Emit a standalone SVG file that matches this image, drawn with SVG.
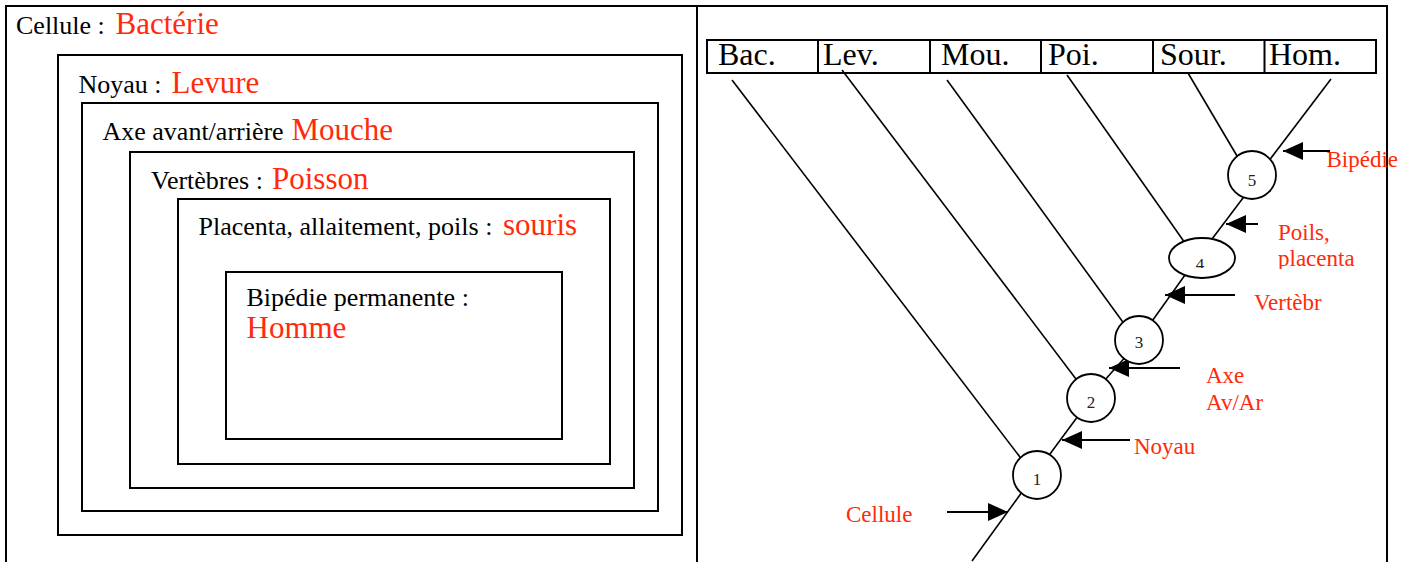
<svg xmlns="http://www.w3.org/2000/svg" width="1409" height="562" viewBox="0 0 1409 562">
<style>
text{font-family:"Liberation Serif","Times New Roman",serif}
.blk{fill:#000;font-size:26px}
.red{fill:#ff2a0a;font-size:31px}
.lab{fill:#ff2a0a;font-size:23px}
.tab{fill:#000;font-size:32px}
.num{fill:#222;font-size:17px;text-anchor:middle}
.box{fill:none;stroke:#000;stroke-width:2}
.ln{fill:none;stroke:#000;stroke-width:1.6}
.nd{fill:#fff;stroke:#000;stroke-width:1.8}
.ar{fill:none;stroke:#000;stroke-width:2}
</style>
<defs>
<marker id="ah" viewBox="0 0 20 18" refX="20" refY="9" markerWidth="20" markerHeight="18" markerUnits="userSpaceOnUse" orient="auto">
<path d="M0,0 L20,9 L0,18 z" fill="#000"/>
</marker>
<clipPath id="c4"><rect x="1180" y="240" width="45" height="28"/></clipPath>
<clipPath id="cpl"><rect x="1270" y="200" width="110" height="69"/></clipPath>
</defs>
<rect width="1409" height="562" fill="#fff"/>
<g id="frame">
<line x1="5" y1="6" x2="1388" y2="6" class="box"/>
<line x1="6" y1="6" x2="6" y2="562" class="box"/>
<line x1="697" y1="6" x2="697" y2="562" class="box"/>
<line x1="1387" y1="6" x2="1387" y2="562" class="box"/>
</g>
<g id="boxes">
<g id="box-cellule"><text x="16" y="34" class="blk">Cellule : <tspan x="115.5" class="red">Bactérie</tspan></text></g>
<g id="box-noyau"><rect x="58" y="55" width="624" height="480" class="box"/><text x="78.5" y="93" class="blk">Noyau : <tspan x="171.5" class="red">Levure</tspan></text></g>
<g id="box-axe"><rect x="82" y="103" width="576" height="408" class="box"/><text x="102.5" y="140" class="blk">Axe avant/arrière <tspan x="291.5" class="red">Mouche</tspan></text></g>
<g id="box-vertebres"><rect x="130" y="152" width="504" height="336" class="box"/><text x="151" y="188.5" class="blk">Vertèbres : <tspan x="272" class="red">Poisson</tspan></text></g>
<g id="box-placenta"><rect x="178" y="199" width="432" height="265" class="box"/><text x="198.5" y="235" class="blk">Placenta, allaitement, poils : <tspan x="503" class="red">souris</tspan></text></g>
<g id="box-bipedie"><rect x="226" y="272" width="336" height="167" class="box"/><text x="246.5" y="305.5" class="blk">Bipédie permanente :</text><text x="246.5" y="338" class="red">Homme</text></g>
</g>
<g id="table">
<rect x="707" y="40" width="669" height="33" class="box"/>
<line x1="818" y1="40" x2="818" y2="73" class="box"/>
<line x1="930" y1="40" x2="930" y2="73" class="box"/>
<line x1="1041" y1="40" x2="1041" y2="73" class="box"/>
<line x1="1153" y1="40" x2="1153" y2="73" class="box"/>
<line x1="1264.5" y1="40" x2="1264.5" y2="73" class="box"/>
<text x="718" y="65" class="tab">Bac.</text>
<text x="823" y="65" class="tab">Lev.</text>
<text x="941" y="65" class="tab">Mou.</text>
<text x="1048" y="65" class="tab">Poi.</text>
<text x="1160" y="65" class="tab">Sour.</text>
<text x="1269" y="65" class="tab">Hom.</text>
</g>
<g id="connectors">
<line x1="732" y1="80" x2="1023" y2="461" class="ln"/>
<line x1="842" y1="70" x2="1079" y2="383" class="ln"/>
<line x1="947" y1="80" x2="1125" y2="325" class="ln"/>
<line x1="1067" y1="75" x2="1185" y2="243" class="ln"/>
<line x1="1188" y1="73" x2="1240" y2="161" class="ln"/>
<line x1="1331" y1="79" x2="1268" y2="162" class="ln"/>
<line x1="972" y1="561" x2="1022" y2="492" class="ln"/>
<line x1="1047" y1="458" x2="1081" y2="412" class="ln"/>
<line x1="1104" y1="381" x2="1128" y2="354" class="ln"/>
<line x1="1150" y1="324" x2="1185" y2="275" class="ln"/>
<line x1="1209" y1="243" x2="1246" y2="194" class="ln"/>
<line x1="1330" y1="151" x2="1283" y2="151" class="ar" marker-end="url(#ah)"/>
<line x1="1258" y1="224" x2="1226" y2="224" class="ar" marker-end="url(#ah)"/>
<line x1="1235" y1="295" x2="1165" y2="295" class="ar" marker-end="url(#ah)"/>
<line x1="1180" y1="368" x2="1109" y2="368" class="ar" marker-end="url(#ah)"/>
<line x1="1130" y1="440" x2="1062" y2="440" class="ar" marker-end="url(#ah)"/>
<line x1="947" y1="512" x2="1008" y2="512" class="ar" marker-end="url(#ah)"/>
</g>
<g id="node-1"><circle cx="1037" cy="475" r="24" class="nd"/><text x="1037" y="485" class="num">1</text></g>
<g id="node-2"><circle cx="1091" cy="398" r="24" class="nd"/><text x="1091" y="408" class="num">2</text></g>
<g id="node-3"><circle cx="1139" cy="340" r="24" class="nd"/><text x="1139" y="348" class="num">3</text></g>
<g id="node-4"><ellipse cx="1202" cy="258" rx="33" ry="20" class="nd"/><text x="1200" y="270" class="num" clip-path="url(#c4)">4</text></g>
<g id="node-5"><circle cx="1252" cy="175" r="24" class="nd"/><text x="1252" y="186" class="num">5</text></g>
<g id="labels">
<text x="1326.5" y="167" class="lab">Bipédie</text>
<g clip-path="url(#cpl)"><text x="1278" y="240" class="lab">Poils,</text><text x="1278" y="266" class="lab">placenta</text></g>
<text x="1254" y="310" class="lab">Vertèbr</text>
<text x="1206" y="383" class="lab">Axe</text>
<text x="1206" y="410" class="lab">Av/Ar</text>
<text x="1134" y="454" class="lab">Noyau</text>
<text x="846" y="522" class="lab">Cellule</text>
</g>
</svg>
